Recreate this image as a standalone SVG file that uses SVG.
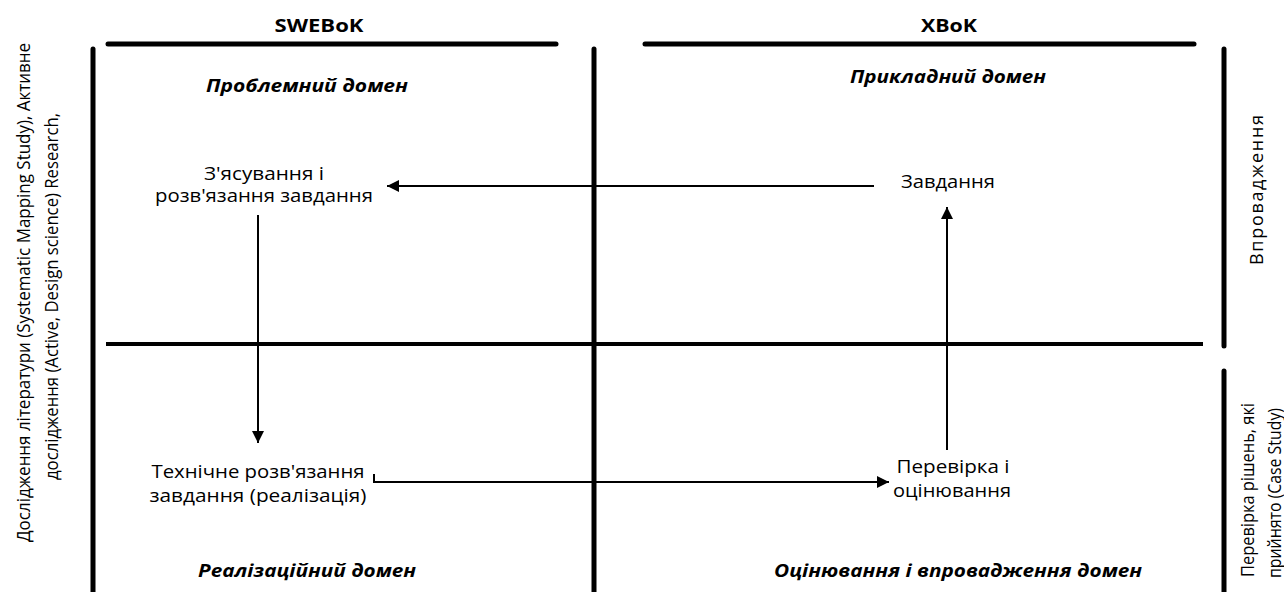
<svg xmlns="http://www.w3.org/2000/svg" width="1284" height="592" viewBox="0 0 1284 592">
<style>
.t{font-family:"Open Sans","Noto Sans","DejaVu Sans",sans-serif;font-size:18px;fill:#000;text-anchor:middle}
.b{font-weight:bold}
.bi{font-weight:bold;font-style:italic}
.frame{stroke:#000;stroke-width:5;stroke-linecap:round;fill:none}
.conn{stroke:#000;stroke-width:2;fill:none}
</style>
<defs>
<marker id="ah" viewBox="0 0 12 12" refX="12" refY="6" markerWidth="12" markerHeight="12" markerUnits="userSpaceOnUse" orient="auto">
<path d="M0,0 L12,6 L0,12 Z" fill="#000"/>
</marker>
</defs>
<rect width="1284" height="592" fill="#fff"/>
<g id="frame">
<line class="frame" x1="108" y1="44" x2="556" y2="44"/>
<line class="frame" x1="645" y1="44" x2="1194" y2="44"/>
<line class="frame" x1="93" y1="49" x2="93" y2="600"/>
<line class="frame" x1="594" y1="49" x2="594" y2="600"/>
<line class="frame" x1="1224" y1="49" x2="1224" y2="346"/>
<line class="frame" x1="1224" y1="371" x2="1224" y2="600"/>
<line class="frame" x1="106" y1="344" x2="1203" y2="344" style="stroke-width:4;stroke-linecap:butt"/>
</g>
<g id="headers">
<text class="t b" x="319" y="32" textLength="89" lengthAdjust="spacingAndGlyphs">SWEBoK</text>
<text class="t b" x="949" y="32" textLength="56" lengthAdjust="spacingAndGlyphs">XBoK</text>
</g>
<g id="domain-problem"><text class="t bi" x="307" y="92" textLength="202" lengthAdjust="spacingAndGlyphs">Проблемний домен</text></g>
<g id="domain-applied"><text class="t bi" x="948" y="83" textLength="196" lengthAdjust="spacingAndGlyphs">Прикладний домен</text></g>
<g id="domain-realization"><text class="t bi" x="307" y="577" textLength="218" lengthAdjust="spacingAndGlyphs">Реалізаційний домен</text></g>
<g id="domain-evaluation"><text class="t bi" x="958" y="577" textLength="368" lengthAdjust="spacingAndGlyphs">Оцінювання і впровадження домен</text></g>
<g id="node-clarify">
<text class="t" x="264" y="180" textLength="120" lengthAdjust="spacingAndGlyphs">З'ясування і</text>
<text class="t" x="264" y="202" textLength="218" lengthAdjust="spacingAndGlyphs">розв'язання завдання</text>
</g>
<g id="node-task"><text class="t" x="948" y="188" textLength="94" lengthAdjust="spacingAndGlyphs">Завдання</text></g>
<g id="node-tech">
<text class="t" x="258" y="478" textLength="213" lengthAdjust="spacingAndGlyphs">Технічне розв'язання</text>
<text class="t" x="258" y="502" textLength="217" lengthAdjust="spacingAndGlyphs">завдання (реалізація)</text>
</g>
<g id="node-eval">
<text class="t" x="953" y="473" textLength="113" lengthAdjust="spacingAndGlyphs">Перевірка і</text>
<text class="t" x="952" y="497" textLength="118" lengthAdjust="spacingAndGlyphs">оцінювання</text>
</g>
<g id="side-left">
<text class="t" transform="translate(30,292.5) rotate(-90)" x="0" y="0" textLength="499" lengthAdjust="spacingAndGlyphs">Дослідження літератури (Systematic Mapping Study), Активне</text>
<text class="t" transform="translate(58,296.5) rotate(-90)" x="0" y="0" textLength="367" lengthAdjust="spacingAndGlyphs">дослідження (Active, Design science) Research,</text>
</g>
<g id="side-implementation">
<text class="t" transform="translate(1263,190) rotate(-90)" x="0" y="0" textLength="150" lengthAdjust="spacing">Впровадження</text>
</g>
<g id="side-casestudy">
<text class="t" transform="translate(1254,490) rotate(-90)" x="0" y="0" textLength="174" lengthAdjust="spacingAndGlyphs">Перевірка рішень, які</text>
<text class="t" transform="translate(1281,493) rotate(-90)" x="0" y="0" textLength="170" lengthAdjust="spacingAndGlyphs">прийнято (Case Study)</text>
</g>
<g id="connectors">
<line class="conn" x1="874" y1="186" x2="387" y2="186" marker-end="url(#ah)"/>
<line class="conn" x1="258" y1="215" x2="258" y2="443" marker-end="url(#ah)"/>
<polyline class="conn" points="374,474 374,482 889,482" marker-end="url(#ah)"/>
<line class="conn" x1="947" y1="450" x2="947" y2="207" marker-end="url(#ah)"/>
</g>
</svg>
